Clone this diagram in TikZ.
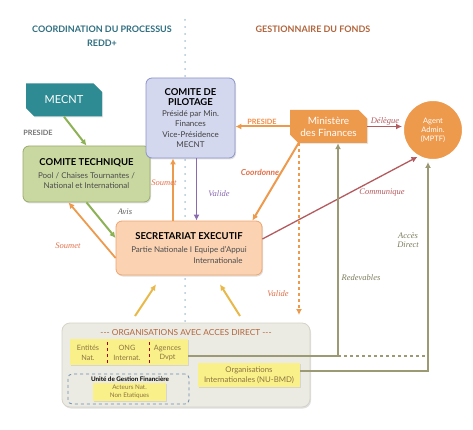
\documentclass[tikz,border=0pt]{standalone}
\usepackage{fontspec}
\setmainfont{Lato}
\newfontfamily\labfont{Liberation Serif}
\usetikzlibrary{shapes.misc,arrows.meta,shadows}

\definecolor{tealbox}{HTML}{2F8B93}
\definecolor{tealtxt}{HTML}{2E6E80}
\definecolor{browntxt}{HTML}{B0643C}
\definecolor{greenarr}{HTML}{8DB255}
\definecolor{greenfill}{HTML}{C9D8A0}
\definecolor{greenline}{HTML}{9AAB6C}
\definecolor{lavfill}{HTML}{D4D8EE}
\definecolor{lavline}{HTML}{8C93C8}
\definecolor{orangebox}{HTML}{EE9A4D}
\definecolor{peachfill}{HTML}{FBD3B3}
\definecolor{peachline}{HTML}{EEA56C}
\definecolor{darkred}{HTML}{B35A5E}
\definecolor{purplearr}{HTML}{8A6BB0}
\definecolor{olivearr}{HTML}{9C9A74}
\definecolor{goldarr}{HTML}{E8B94A}
\definecolor{orgfill}{HTML}{ECEBE3}
\definecolor{orgline}{HTML}{D5D3C8}
\definecolor{yellowbox}{HTML}{F9F08A}
\definecolor{yellowtxt}{HTML}{8C7440}
\definecolor{bluedash}{HTML}{6A8AB0}
\definecolor{sepblue}{HTML}{A9C4D8}
\definecolor{redlab}{HTML}{E0704A}

\newcommand{\boxttl}[1]{{\fontsize{9.5}{10.5}\selectfont\bfseries #1}}

\tikzstyle{hdr}=[font=\fontsize{9}{14}\selectfont\bfseries, align=center]
\tikzstyle{box}=[rounded corners=6pt, draw, line width=0.8pt, align=center, inner sep=2pt,
  font=\fontsize{8}{10.5}\selectfont, drop shadow={shadow xshift=1pt, shadow yshift=-1.5pt, opacity=.25}]
\tikzstyle{chip}=[chamfered rectangle, chamfered rectangle corners={north east,south west},
  chamfered rectangle xsep=5pt, text=white, align=center, inner sep=1pt,
  drop shadow={shadow xshift=1pt, shadow yshift=-1pt, opacity=.2}]
\tikzstyle{ybox}=[rectangle, fill=yellowbox, text=yellowtxt, align=center, inner sep=1pt,
  drop shadow={shadow xshift=1pt, shadow yshift=-1pt, opacity=.2}]
\tikzstyle{lab}=[font=\labfont\itshape\fontsize{8.5}{9.5}\selectfont, align=center]
\tikzstyle{tip}=[-{Latex[length=6pt,width=6pt]}]

\begin{document}
\begin{tikzpicture}[x=1pt, y=-1pt]
\useasboundingbox (0,0) rectangle (473,430);
% Separator
    \draw[sepblue, line width=2pt, line cap=round, dash pattern=on 0pt off 7pt] (185,20) -- (185,322);
% Headers
    \node[hdr, text=tealtxt] (coordhdr) at (102,36) {COORDINATION DU PROCESSUS\\REDD+};
    \node[hdr, text=browntxt] (gesthdr) at (313,29) {GESTIONNAIRE DU FONDS};
% Bodies
    \node[chip, fill=tealbox, minimum width=76pt, minimum height=33pt,
      font=\fontsize{11}{12}\selectfont] (mecnt) at (64,100) {MECNT};
    \node[box, fill=greenfill, draw=greenline, text=black!70, minimum width=127pt, minimum height=56pt]
      (comtech) at (86.5,174) {\boxttl{\textcolor{black}{COMITE TECHNIQUE}}\\[2pt]Pool / Chaises Tournantes /\\National et International};
    \node[box, fill=lavfill, draw=lavline, text=black!75, minimum width=89pt, minimum height=80pt]
      (pilot) at (190.5,118) {\boxttl{\textcolor{black}{COMITE DE}}\\\boxttl{\textcolor{black}{PILOTAGE}}\\Présidé par Min.\\Finances\\Vice-Présidence\\MECNT};
    \node[chip, fill=orangebox, minimum width=77pt, minimum height=33pt,
      font=\fontsize{10}{12}\selectfont] (minfin) at (328.5,126.5) {Ministère\\des Finances};
    \node[circle, fill=orangebox, draw=white, line width=2pt, minimum size=60pt, text=white,
      align=center, font=\fontsize{7.5}{9}\selectfont] (agent) at (433,130) {Agent\\Admin.\\(MPTF)};
    \node[box, fill=peachfill, draw=peachline, text=black!70, minimum width=146pt, minimum height=54pt]
      (secr) at (189,248) {\boxttl{\textcolor{black}{SECRETARIAT EXECUTIF}}\\[3pt]Partie Nationale I Equipe d'Appui\\\hspace*{58pt}Internationale};
% Organisations
    \node[box, rounded corners=8pt, fill=orgfill, draw=orgline, minimum width=248pt, minimum height=84pt]
      (org) at (186,365) {};
    \node[text=browntxt, font=\fontsize{8.3}{9}\selectfont] (orgttl) at (186,333)
      {{-}{-}{-} ORGANISATIONS AVEC ACCES DIRECT {-}{-}{-}};
    \node[ybox, minimum width=118pt, minimum height=26pt] (rowbox) at (129,352) {};
    \node[text=yellowtxt, align=center, font=\fontsize{7.3}{9.5}\selectfont] (ent) at (88,353) {Entités\\Nat.};
    \node[text=yellowtxt, align=center, font=\fontsize{7.3}{9.5}\selectfont] (ong) at (127,353) {ONG\\Internat.};
    \node[text=yellowtxt, align=center, font=\fontsize{7.3}{9.5}\selectfont] (agc) at (167.5,353) {Agences\\Dvpt};
    \draw[red!70!black, dashed, line width=0.6pt] (107,342) -- (107,363);
    \draw[red!70!black, dashed, line width=0.6pt] (149,342) -- (149,363);
    \node[rounded corners=4pt, draw=bluedash, dashed, line width=0.8pt, minimum width=121pt,
      minimum height=30pt] (ugf) at (128.5,389) {};
    \node[font=\fontsize{6.3}{7}\selectfont\bfseries] (ugfttl) at (130,379) {Unité de Gestion Financière};
    \node[ybox, minimum width=73pt, minimum height=18pt, font=\fontsize{6.3}{8}\selectfont]
      (acteurs) at (129.5,392) {Acteurs Nat.\\Non Etatiques};
    \node[ybox, minimum width=102pt, minimum height=24pt, font=\fontsize{7.8}{10}\selectfont]
      (orgint) at (249,375) {Organisations\\Internationales (NU-BMD)};
% Free ends
    \coordinate (redev) at (338,356);
    \coordinate (accdir) at (428,371);
    \coordinate (goldl) at (135,316);
    \coordinate (goldr) at (240,316);
    \coordinate (validend) at (299,315);
% Connectors
    \draw[tip, greenarr, line width=2pt] (mecnt.south) -- (comtech.north);
    \draw[tip, orangebox, line width=2pt] (minfin.west) -- (minfin.west -| pilot.east);
    \draw[tip, darkred, line width=1.3pt] (minfin.east) -- (minfin.east -| agent.west);
    \draw[tip, orangebox, line width=2pt] ([xshift=7pt]minfin.south west) -- ([xshift=-10pt]secr.north east);
    \draw[tip, orangebox, line width=1.2pt, dashed] (validend |- minfin.south) -- (validend);
    \draw[tip, darkred, line width=1.3pt] ([yshift=9pt]secr.east) -- (agent.240);
    \draw[tip, orangebox, line width=1.8pt] ([xshift=-16pt]secr.north) -- ([xshift=-16pt]secr.north |- pilot.south);
    \draw[tip, purplearr, line width=1.5pt] ([xshift=6pt]pilot.south) -- ([xshift=6pt]pilot.south |- secr.north);
    \draw[tip, greenarr, line width=2pt] (comtech.south) -- ([yshift=10pt]secr.west);
    \draw[tip, orangebox, line width=1.8pt] ([yshift=-10pt]secr.west) -- ([xshift=-18pt]comtech.south);
    \draw[tip, goldarr, line width=2pt] (goldl) -- ([xshift=-33pt,yshift=-9pt]secr.south);
    \draw[tip, goldarr, line width=2pt] (goldr) -- ([xshift=31pt,yshift=-9pt]secr.south);
    \draw[tip, olivearr, line width=1.3pt] (rowbox.east |- redev) -- (redev) -- (redev |- minfin.south);
    \draw[olivearr, line width=1.3pt, dashed] (redev) -- (redev -| accdir);
    \draw[tip, olivearr, line width=1.3pt] (orgint.east |- accdir) -- (accdir) -- ([yshift=-1pt]accdir |- agent.south);
% Labels
    \node[text=black!55, font=\fontsize{7.3}{8}\selectfont\bfseries] (presa) at (38,133) {PRESIDE};
    \node[text=orangebox!90!red, font=\fontsize{7.3}{8}\selectfont\bfseries] (presb) at (262,122) {PRESIDE};
    \node[lab, text=darkred] (deleg) at (385,121) {Délègue};
    \node[text=redlab, font=\fontsize{8.3}{9}\selectfont\bfseries\itshape] (coordo) at (260,172) {Coordonne};
    \node[lab, text=redlab] (soumeta) at (164,183) {Soumet};
    \node[lab, text=purplearr] (valida) at (219,194) {Valide};
    \node[lab, text=black!65] (avis) at (125,212) {Avis};
    \node[lab, text=redlab] (soumetb) at (68,246) {Soumet};
    \node[lab, text=darkred] (commu) at (382,193) {Communique};
    \node[lab, text=olivearr!80!black] (redevl) at (361,278) {Redevables};
    \node[lab, text=olivearr!80!black] (accesl) at (408,240) {Accès\\Direct};
    \node[lab, text=redlab] (validb) at (278,294) {Valide};
\end{tikzpicture}
\end{document}
